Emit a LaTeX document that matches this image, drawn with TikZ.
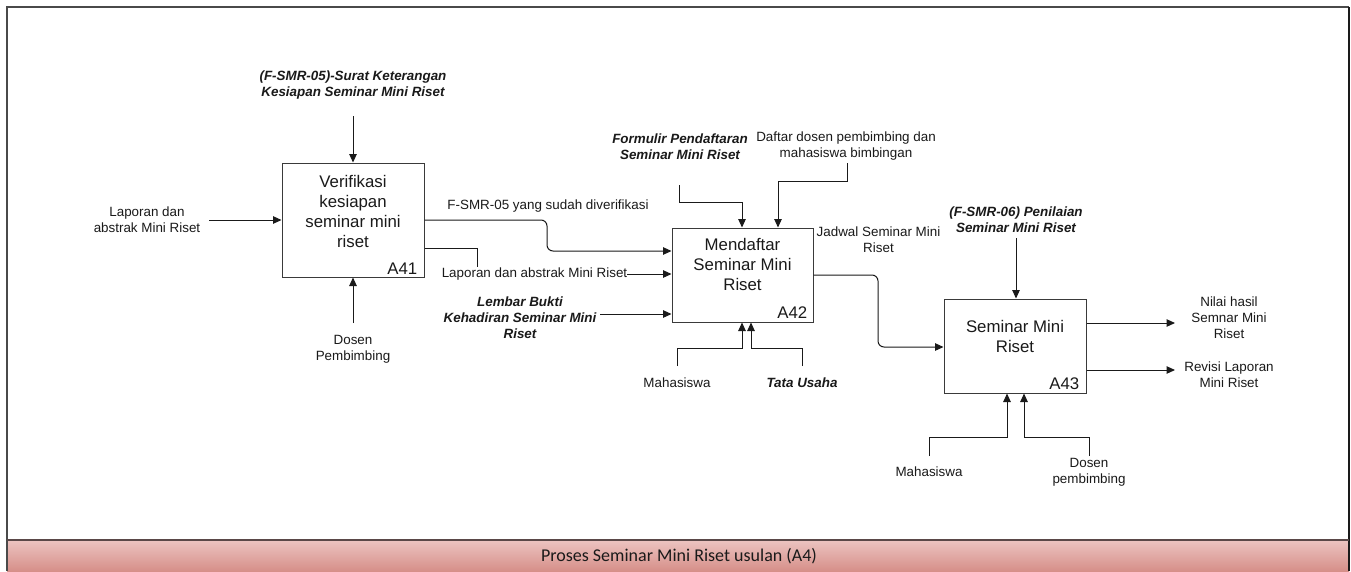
\documentclass[tikz,border=0pt]{standalone}
\usepackage{fontspec}
\setmainfont{Liberation Sans}
\newfontfamily\barfont{Carlito}
\usetikzlibrary{arrows.meta,calc}
\definecolor{ink}{HTML}{1A1A1A}
\definecolor{boxline}{HTML}{3A3A3A}
\definecolor{framegray}{HTML}{4A4A4A}
\definecolor{bartop}{HTML}{ECC4C1}
\definecolor{barbot}{HTML}{D68F89}
\definecolor{barline}{HTML}{5A4848}
\tikzset{
  procbox/.style={draw=boxline, line width=1pt, fill=white, inner sep=0pt},
  title/.style={text=ink, align=center, font=\fontsize{16.8}{20}\selectfont, inner sep=0pt},
  ttag/.style={text=ink, font=\fontsize{16.8}{20}\selectfont, inner sep=0pt, anchor=east},
  lbl/.style={text=ink, align=center, font=\fontsize{13.4}{16}\selectfont, inner sep=1pt},
  blbl/.style={lbl, font=\fontsize{13.4}{16}\selectfont\bfseries\itshape},
  wire/.style={draw=ink, line width=1pt},
  arr/.style={wire, -{Triangle[length=8.5pt,width=7.5pt]}},
}
\begin{document}
\begin{tikzpicture}[x=1pt,y=-1pt]
\useasboundingbox (0,0) rectangle (1351,571);
\fill[white] (0,0) rectangle (1351,571);

% frame and title bar
\shade[top color=bartop, bottom color=barbot] (7,540) rectangle (1349,571);
\draw[framegray, line width=1.5pt] (7,571) -- (7,7) -- (1349,7);
\draw[ink, line width=2pt] (1349,7) -- (1349,571);
\draw[barline, line width=1.8pt] (7,540) -- (1349,540);
\node[text=ink, font=\barfont\fontsize{18}{20}\selectfont] (bar) at (679,556) {Proses Seminar Mini Riset usulan (A4)};

% activity boxes
\node[procbox, minimum width=142pt, minimum height=114pt] (a41) at (353,220) {};
\node[procbox, minimum width=141pt, minimum height=94pt] (a42) at (742.5,275) {};
\node[procbox, minimum width=142pt, minimum height=94pt] (a43) at (1015,346) {};

\node[title] (t41) at (353,211) {Verifikasi\\kesiapan\\seminar mini\\riset};
\node[title] (t42) at (742.5,264) {Mendaftar\\Seminar Mini\\Riset};
\node[title] (t43) at (1015,336) {Seminar Mini\\Riset};
\node[ttag] (n41) at ($(a41.south east)+(-7,-9)$) {A41};
\node[ttag] (n42) at ($(a42.south east)+(-6,-10)$) {A42};
\node[ttag] (n43) at ($(a43.south east)+(-7,-10)$) {A43};

% ---- A41 ----
\node[blbl] (c41) at (353,85) {(F-SMR-05)-Surat Keterangan\\Kesiapan Seminar Mini Riset};
\coordinate (c41e) at (353,116);
\draw[arr] (c41e) -- (a41.north);

\node[lbl] (i41) at (147,220) {Laporan dan\\abstrak Mini Riset};
\coordinate (i41e) at (209,220);
\draw[arr] (i41e) -- (a41.west);

\node[lbl] (m41) at (353,349) {Dosen\\Pembimbing};
\coordinate (m41e) at (353,323);
\draw[arr] (m41e) -- (a41.south);

% A41 outputs
\node[lbl] (fver) at (548,206) {F-SMR-05 yang sudah diverifikasi};
\draw[arr, rounded corners=6pt] (a41.east) -- (547,220) -- (547,251) -- (a42.west |- 0,251);

\node[lbl, inner sep=0pt] (lap2) at (534.5,274) {Laporan dan abstrak Mini Riset};
\draw[wire] (a41.east |- 0,248) -| (477,267);
\draw[arr] (lap2.east) -- (a42.west |- lap2.east);

% ---- A42 ----
\node[blbl] (lbk) at (520,318) {Lembar Bukti\\Kehadiran Seminar Mini\\Riset};
\coordinate (lbke) at (600,314);
\draw[arr] (lbke) -- (a42.west |- lbke);

\node[blbl] (form) at (680,147) {Formulir Pendaftaran\\Seminar Mini Riset};
\coordinate (forme) at (679,185);
\draw[arr] (forme) |- (742,202) -- (a42.north -| 742,0);

\node[lbl] (daft) at (846,146) {Daftar dosen pembimbing dan\\mahasiswa bimbingan};
\coordinate (dafte) at (847,163);
\draw[arr] (dafte) |- (778,181) -- (a42.north -| 778,0);

\node[lbl] (mhs42) at (677,383) {Mahasiswa};
\coordinate (mhs42e) at (677,366);
\draw[arr] (mhs42e) |- (742,348) -- (a42.south -| 742,0);

\node[blbl] (tu42) at (802,383) {Tata Usaha};
\coordinate (tu42e) at (802,366);
\draw[arr] (tu42e) |- (751,348) -- (a42.south -| 751,0);

% A42 output
\node[lbl] (jad) at (878.5,240) {Jadwal Seminar Mini\\Riset};
\draw[arr, rounded corners=6pt] (a42.east) -- (878,275) -- (878,347) -- (a43.west |- 0,347);

% ---- A43 ----
\node[blbl] (c43) at (1016,220) {(F-SMR-06) Penilaian\\Seminar Mini Riset};
\coordinate (c43e) at (1016,238);
\draw[arr] (c43e) -- (a43.north -| c43e);

\node[lbl] (nil) at (1229,318) {Nilai hasil\\Semnar Mini\\Riset};
\coordinate (nile) at (1175,323);
\draw[arr] (a43.east |- nile) -- (nile);

\node[lbl] (rev) at (1229,375) {Revisi Laporan\\Mini Riset};
\coordinate (reve) at (1175,370);
\draw[arr] (a43.east |- reve) -- (reve);

\node[lbl] (mhs43) at (929,472) {Mahasiswa};
\coordinate (mhs43e) at (929,456);
\draw[arr] (mhs43e) |- (1007,437) -- (a43.south -| 1007,0);

\node[lbl] (dos43) at (1089,472) {Dosen\\pembimbing};
\coordinate (dos43e) at (1089,456);
\draw[arr] (dos43e) |- (1024,437) -- (a43.south -| 1024,0);
\end{tikzpicture}
\end{document}
